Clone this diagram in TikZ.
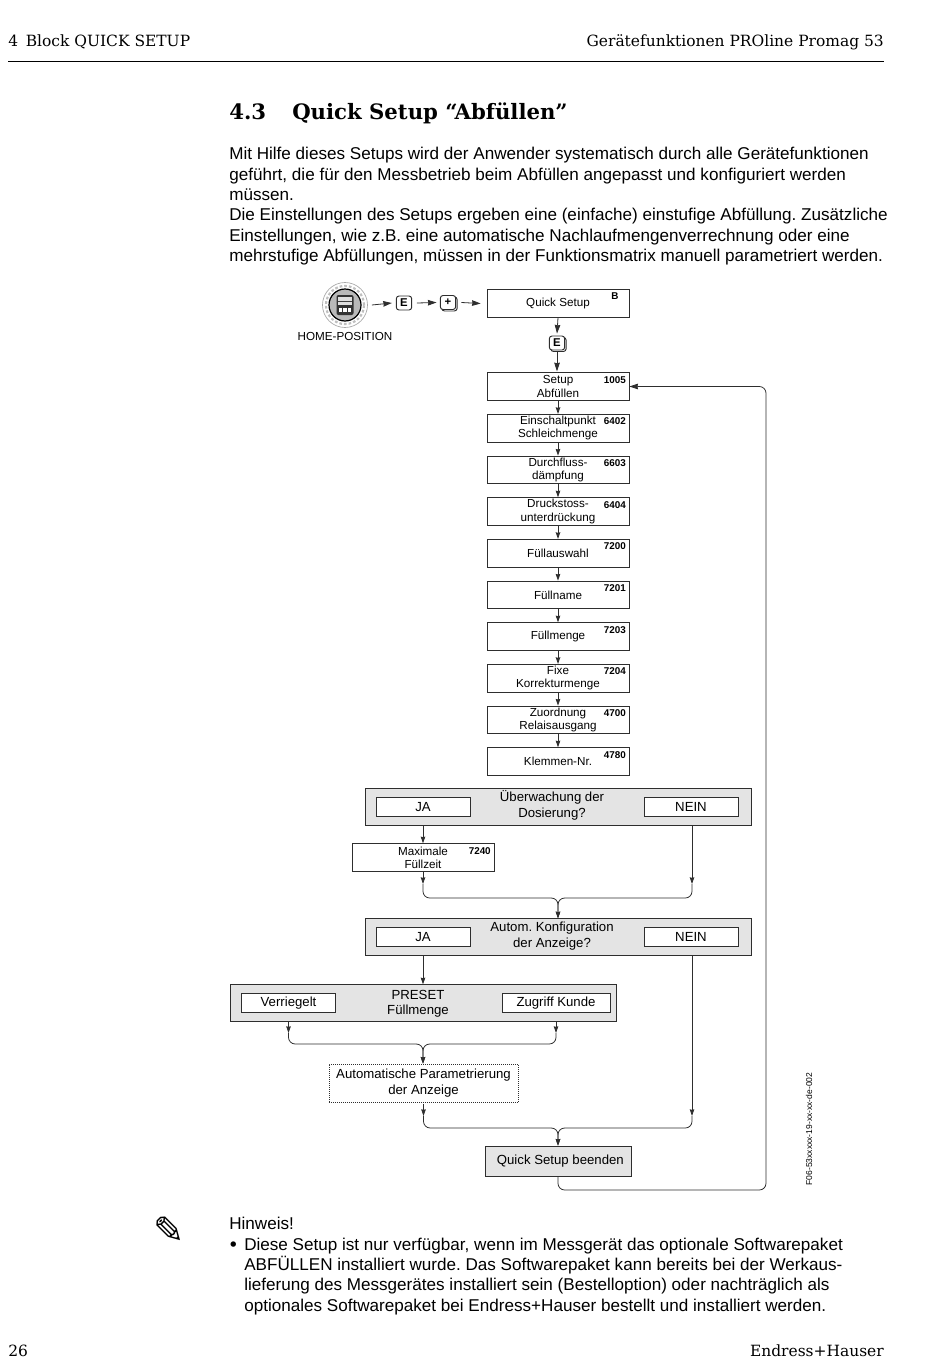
\documentclass[tikz,border=0pt]{standalone}
\usepackage{fontspec}
\setmainfont{Liberation Sans}
\newfontfamily\headfont{DejaVu Serif}
\newfontfamily\symfont{DejaVu Sans}
\usetikzlibrary{positioning,calc,arrows.meta,shadows}
\frenchspacing
\definecolor{inkgray}{HTML}{2E2E2E}
\definecolor{askgray}{HTML}{E4E4E4}
\tikzset{
	boxtext/.style={font=\fontsize{8.75}{9.8}\selectfont, align=center, inner sep=0pt},
	stepbox/.style={boxtext, draw=inkgray, line width=0.5pt, fill=white, minimum width=106.5pt, minimum height=20.8pt},
	codelabel/.style={font=\fontsize{7.4}{8}\selectfont\bfseries, inner sep=0pt, anchor=north east},
	askbox/.style={draw=inkgray, line width=0.5pt, fill=askgray, minimum width=289.5pt, minimum height=27.5pt},
	asktext/.style={font=\fontsize{9.9}{11.6}\selectfont, align=center, inner sep=0pt},
	answerbox/.style={font=\fontsize{9.9}{11.4}\selectfont, draw=inkgray, line width=0.5pt, fill=white, minimum width=70.5pt, minimum height=14.6pt, inner sep=0pt},
	keybox/.style={draw=inkgray, line width=0.7pt, fill=white, rounded corners=2pt, minimum width=11.5pt, minimum height=10.5pt, inner sep=0pt, font=\fontsize{8.5}{9}\selectfont\bfseries},
	keydouble/.style={keybox, copy shadow={shadow xshift=1.1pt, shadow yshift=-1.1pt, draw=inkgray, fill=white}},
	flowline/.style={draw=inkgray, line width=0.6pt},
	flowarrow/.style={flowline, -{Stealth[length=5pt,width=3.4pt,inset=0.4pt]}},
	toparrow/.style={flowline, -{Stealth[length=6.5pt,width=4.2pt,inset=0.4pt]}},
	mergeline/.style={flowarrow, rounded corners=5pt},
	bodytext/.style={font=\fontsize{12.82}{15.3}\selectfont, align=left, inner sep=0pt, anchor=north west},
	headtext/.style={font=\headfont\fontsize{11.6}{15}\selectfont, inner sep=0pt},
	titletext/.style={anchor=base west, inner sep=0pt, font=\headfont\fontsize{15.9}{20}\selectfont\bfseries},
}
\begin{document}
\begin{tikzpicture}[x=0.75pt,y=-0.75pt]
	\useasboundingbox (0,0) rectangle (950,1370);
	\node[headtext, anchor=base west] (Chapter) at (8,46.5) {4\hspace{0.5em}Block QUICK SETUP};
	\node[headtext, anchor=base east] (Device) at (884,46.5) {Gerätefunktionen PROline Promag 53};
	\draw[line width=0.7pt] (8,61) -- (884,61);
	\node[titletext] (SecNum) at (229,119) {4.3};
	\node[titletext] (SecTitle) at (292,119) {Quick Setup “Abfüllen”};
	\node[bodytext] (Intro) at (229,147) {Mit Hilfe dieses Setups wird der Anwender systematisch durch alle Gerätefunktionen\\geführt, die für den Messbetrieb beim Abfüllen angepasst und konfiguriert werden\\müssen.\\Die Einstellungen des Setups ergeben eine (einfache) einstufige Abfüllung. Zusätzliche\\Einstellungen, wie z.B. eine automatische Nachlaufmengenverrechnung oder eine\\mehrstufige Abfüllungen, müssen in der Funktionsmatrix manuell parametriert werden.};

	\node[circle, draw=gray!70, line width=0.5pt, fill=white, minimum size=33.75pt, inner sep=0pt] (Home) at (345,305) {};
	\draw[gray!50, line width=1.6pt, dash pattern=on 2pt off 1.5pt] (Home) circle (14.3pt);
	\node[circle, draw=black, line width=0.9pt, fill=gray!55, minimum size=24pt, inner sep=0pt] (HomeRing) at (Home) {};
	\node[fill=black!80, rounded corners=1.5pt, minimum width=12.75pt, minimum height=15pt, inner sep=0pt] (HomeCase) at (Home) {};
	\node[fill=gray!25, minimum width=10.5pt, minimum height=6.6pt, inner sep=0pt] (HomeDisplay) at (345,301) {};
	\draw[black!75, line width=0.4pt] (HomeDisplay.west) -- (HomeDisplay.east);
	\node[fill=white, minimum width=2.4pt, minimum height=3pt, inner sep=0pt] (HomeMinus) at (340.5,310) {};
	\node[fill=white, minimum width=2.4pt, minimum height=3pt, inner sep=0pt] (HomePlus) at (345,310) {};
	\node[fill=white, minimum width=2.4pt, minimum height=3pt, inner sep=0pt] (HomeEnter) at (349.5,310) {};
	\node[boxtext, below=3.4pt of Home, font=\fontsize{8.75}{10}\selectfont] (HomeLabel) {HOME-POSITION};
	\node[keybox] (KeyE) at (404,303) {E};
	\node[keydouble] (KeyPlus) at (448,302.5) {+};
	\node[stepbox] (QuickSetup) at (558,303.5) {Quick Setup};
	\node[codelabel] (QuickCode) at ([xshift=-8pt,yshift=-2.5pt]QuickSetup.north east) {B};
	\node[keydouble] (KeyEnter) at (557,343) {E};
	\draw[toparrow] ([xshift=3pt]Home.east) -- ([xshift=-3pt]KeyE.west);
	\draw[toparrow] ([xshift=3.5pt]KeyE.east) -- ([xshift=-2.5pt]KeyPlus.west);
	\draw[toparrow] ([xshift=4pt]KeyPlus.east) -- ([xshift=-4.5pt]QuickSetup.west);
	\draw[toparrow] (QuickSetup.south) -- ([yshift=1.5pt]KeyEnter.north);
	\draw[toparrow] ([yshift=-1.5pt]KeyEnter.south) -- ([yshift=0.5pt]KeyEnter.south |- 558,372);

	\node[stepbox] (Setup) at (558,386.5) {Setup\\Abfüllen};
	\node[stepbox, below=9.95pt of Setup] (Einschalt) {Einschaltpunkt\\Schleichmenge};
	\node[stepbox, below=9.95pt of Einschalt] (Daempfung) {Durchfluss-\\dämpfung};
	\node[stepbox, below=9.95pt of Daempfung] (Druckstoss) {Druckstoss-\\unterdrückung};
	\node[stepbox, below=9.95pt of Druckstoss] (Fuellauswahl) {Füllauswahl};
	\node[stepbox, below=9.95pt of Fuellauswahl] (Fuellname) {Füllname};
	\node[stepbox, below=9.95pt of Fuellname] (Fuellmenge) {Füllmenge};
	\node[stepbox, below=9.95pt of Fuellmenge] (Korrektur) {Fixe\\Korrekturmenge};
	\node[stepbox, below=9.95pt of Korrektur] (Relais) {Zuordnung\\Relaisausgang};
	\node[stepbox, below=9.95pt of Relais] (Klemmen) {Klemmen-Nr.};
	\node[codelabel] (SetupCode) at ([xshift=-2.5pt,yshift=-2.7pt]Setup.north east) {1005};
	\node[codelabel] (EinschaltCode) at ([xshift=-2.5pt,yshift=-2.7pt]Einschalt.north east) {6402};
	\node[codelabel] (DaempfungCode) at ([xshift=-2.5pt,yshift=-2.7pt]Daempfung.north east) {6603};
	\node[codelabel] (DruckstossCode) at ([xshift=-2.5pt,yshift=-2.7pt]Druckstoss.north east) {6404};
	\node[codelabel] (FuellauswahlCode) at ([xshift=-2.5pt,yshift=-2.7pt]Fuellauswahl.north east) {7200};
	\node[codelabel] (FuellnameCode) at ([xshift=-2.5pt,yshift=-2.7pt]Fuellname.north east) {7201};
	\node[codelabel] (FuellmengeCode) at ([xshift=-2.5pt,yshift=-2.7pt]Fuellmenge.north east) {7203};
	\node[codelabel] (KorrekturCode) at ([xshift=-2.5pt,yshift=-2.7pt]Korrektur.north east) {7204};
	\node[codelabel] (RelaisCode) at ([xshift=-2.5pt,yshift=-2.7pt]Relais.north east) {4700};
	\node[codelabel] (KlemmenCode) at ([xshift=-2.5pt,yshift=-2.7pt]Klemmen.north east) {4780};
	\draw[flowarrow] (Setup) -- (Einschalt);
	\draw[flowarrow] (Einschalt) -- (Daempfung);
	\draw[flowarrow] (Daempfung) -- (Druckstoss);
	\draw[flowarrow] (Druckstoss) -- (Fuellauswahl);
	\draw[flowarrow] (Fuellauswahl) -- (Fuellname);
	\draw[flowarrow] (Fuellname) -- (Fuellmenge);
	\draw[flowarrow] (Fuellmenge) -- (Korrektur);
	\draw[flowarrow] (Korrektur) -- (Relais);
	\draw[flowarrow] (Relais) -- (Klemmen);

	\node[askbox] (Dosierung) at (558,806.5) {};
	\node[asktext] (DosierungText) at (552,805.5) {Überwachung der\\Dosierung?};
	\node[answerbox] (DosierungJa) at (423,807) {JA};
	\node[answerbox] (DosierungNein) at (691,807) {NEIN};
	\node[stepbox] (Fuellzeit) at (423,857.5) {Maximale\\Füllzeit};
	\node[codelabel] (FuellzeitCode) at ([xshift=-2.5pt,yshift=-2.7pt]Fuellzeit.north east) {7240};
	\node[askbox] (Anzeige) at (558,937) {};
	\node[asktext] (AnzeigeText) at (552,936) {Autom. Konfiguration\\der Anzeige?};
	\node[answerbox] (AnzeigeJa) at (423,937) {JA};
	\node[answerbox] (AnzeigeNein) at (691,937) {NEIN};
	\node[askbox] (Preset) at (423,1003) {};
	\node[asktext] (PresetText) at (418,1004) {PRESET\\Füllmenge};
	\node[answerbox] (PresetLock) at (288.5,1003) {Verriegelt};
	\node[answerbox, minimum width=81pt] (PresetKunde) at (556,1003) {Zugriff Kunde};
	\node[asktext, draw=inkgray, line width=0.5pt, densely dotted, minimum width=142pt, minimum height=28.5pt] (AutoParam) at (423.5,1083) {Automatische Parametrierung\\der Anzeige};
	\node[asktext, draw=inkgray, line width=0.5pt, fill=askgray, minimum width=109.5pt, minimum height=22.5pt] (Beenden) at (558,1161) {\hspace*{3.5pt}Quick Setup beenden};

	\coordinate (DosNeinMid) at (692,884);
	\coordinate (FuellzeitMid) at (423,884);
	\coordinate (DosJoin) at (558,898);
	\coordinate (AnzNeinMid) at (692,1116);
	\coordinate (LockMid) at (288.5,1033);
	\coordinate (KundeMid) at (556,1033);
	\coordinate (PresetJoin) at (423,1044);
	\coordinate (AutoMid) at (423.5,1116);
	\coordinate (EndJoin) at (558,1128);
	\coordinate (BackCorner) at (766,1190);
	\draw[flowarrow] (Dosierung.south -| DosierungJa) -- (Fuellzeit.north);
	\draw[flowarrow] (Dosierung.south -| DosNeinMid) -- (DosNeinMid);
	\draw[flowarrow] (Fuellzeit.south) -- (FuellzeitMid);
	\draw[mergeline] (FuellzeitMid) |- (DosJoin) -- (Anzeige.north);
	\draw[mergeline] (DosNeinMid) |- (DosJoin) -- (Anzeige.north);
	\draw[flowarrow] (Anzeige.south -| AnzeigeJa) -- (Preset.north -| AnzeigeJa);
	\draw[flowarrow] (Anzeige.south -| AnzNeinMid) -- (AnzNeinMid);
	\draw[flowarrow] (Preset.south -| LockMid) -- (LockMid);
	\draw[flowarrow] (Preset.south -| KundeMid) -- (KundeMid);
	\draw[mergeline] (LockMid) |- (PresetJoin) -- (AutoParam.north -| PresetJoin);
	\draw[mergeline] (KundeMid) |- (PresetJoin) -- (AutoParam.north -| PresetJoin);
	\draw[flowarrow] ([yshift=-1pt]AutoParam.south) -- (AutoMid);
	\draw[mergeline] (AutoMid) |- (EndJoin) -- (Beenden.north);
	\draw[mergeline] (AnzNeinMid) |- (EndJoin) -- (Beenden.north);
	\draw[toparrow, rounded corners=5pt] (Beenden.south) |- (BackCorner) |- (Setup.east);

	\node[rotate=90, inner sep=0pt, font=\fontsize{6.4}{7}\selectfont] (FigCode) at (809,1129) {F06-53xxxxx-19-xx-xx-de-002};
	\node[inner sep=0pt, font=\symfont\fontsize{28}{30}\selectfont] (Pencil) at (169,1230) {✎};
	\node[bodytext] (Hinweis) at (229,1217) {Hinweis!};
	\node[inner sep=0pt, font=\symfont\fontsize{14}{15}\selectfont] (Bullet) at (233.5,1247) {•};
	\node[bodytext] (HinweisText) at (244,1237.5) {Diese Setup ist nur verfügbar, wenn im Messgerät das optionale Softwarepaket\\ABFÜLLEN installiert wurde. Das Softwarepaket kann bereits bei der Werkaus-\\lieferung des Messgerätes installiert sein (Bestelloption) oder nachträglich als\\optionales Softwarepaket bei Endress+Hauser bestellt und installiert werden.};
	\node[headtext, anchor=base west] (PageNum) at (8,1356) {26};
	\node[headtext, anchor=base east] (Brand) at (884,1356) {Endress+Hauser};
\end{tikzpicture}
\end{document}
